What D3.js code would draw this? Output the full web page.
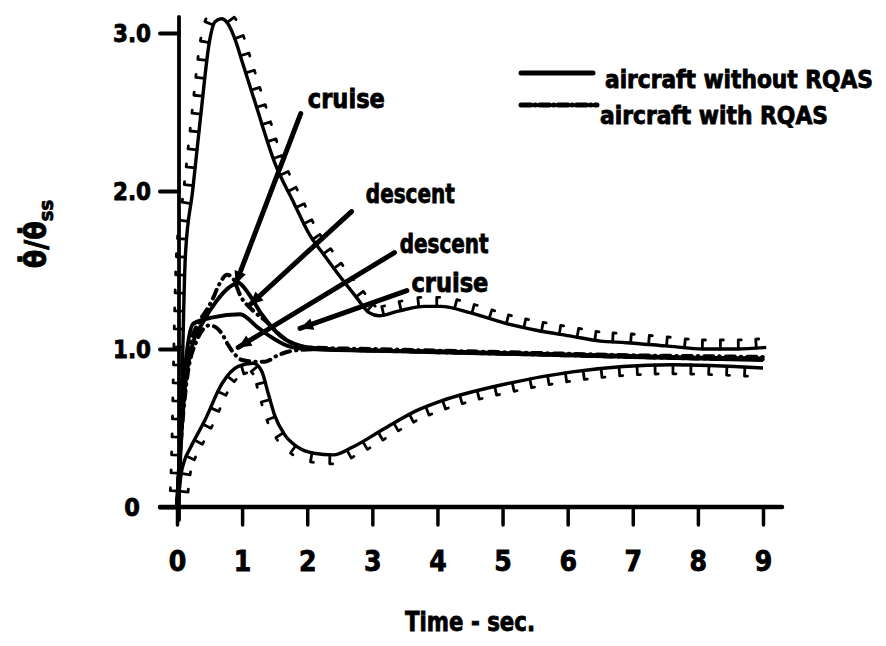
<!DOCTYPE html>
<html><head><meta charset="utf-8">
<script src="https://cdn.jsdelivr.net/npm/d3@7"></script>
<style>body{margin:0;background:#fff}svg{display:block}</style>
</head><body><svg id="c" width="886" height="646"></svg>
<script>
// ---------- data ----------
const xTicks = [0,1,2,3,4,5,6,7,8,9];
const yTicks = [0,1,2,3];
const yTickLabels = ["0","1.0","2.0","3.0"];
const seriesNames = ["aircraft without RQAS","aircraft with RQAS"];

// hatched boundary curves [time, ratio]
const upperBound = [[0.03,0.05],[0.06,0.4],[0.08,0.8],[0.1,1.2],[0.13,1.6],[0.24,2.0],[0.37,2.5],[0.5,2.95],[0.58,3.07],[0.68,3.09],[0.78,3.06],[0.9,2.95],[1.0,2.82],[1.2,2.56],[1.5,2.18],[1.8,1.92],[2.04,1.72],[2.25,1.6],[2.5,1.46],[2.75,1.33],[2.95,1.23],[3.1,1.21],[3.4,1.24],[3.8,1.27],[4.05,1.27],[4.5,1.23],[5.06,1.16],[5.5,1.12],[6.07,1.08],[6.5,1.05],[6.9,1.04],[7.5,1.02],[8.1,1.0],[8.6,1.0],[9.05,1.01]];
const lowerBound = [[0.02,0.05],[0.06,0.2],[0.12,0.3],[0.2,0.37],[0.43,0.55],[0.69,0.78],[0.94,0.89],[1.17,0.91],[1.3,0.86],[1.4,0.72],[1.5,0.58],[1.65,0.46],[1.85,0.38],[2.1,0.34],[2.4,0.33],[2.7,0.38],[3.16,0.49],[3.68,0.61],[4.05,0.67],[5.06,0.78],[6.07,0.855],[7.6,0.9],[9.0,0.88]];

// responses without RQAS (solid)
const withoutCruise = [[0,0],[0.05,0.35],[0.12,0.75],[0.22,1.0],[0.4,1.17],[0.6,1.3],[0.8,1.39],[0.94,1.42],[1.1,1.35],[1.3,1.22],[1.6,1.08],[1.9,1.02],[2.3,1.0],[3,0.99],[4,0.985],[5,0.975],[6,0.965],[7,0.955],[8,0.945],[9,0.94]];
const withoutDescent = [[0,0],[0.05,0.4],[0.12,0.85],[0.25,1.16],[0.55,1.2],[0.97,1.22],[1.23,1.14],[1.43,1.08],[1.7,1.02],[2.0,1.0],[3,0.99],[4,0.98],[5,0.97],[6,0.96],[7,0.95],[8,0.94],[9,0.93]];
// responses with RQAS (dash-dot)
const withCruise = [[0,0],[0.04,0.3],[0.1,0.7],[0.2,1.01],[0.35,1.18],[0.46,1.25],[0.54,1.31],[0.65,1.41],[0.77,1.47],[0.87,1.44],[0.97,1.34],[1.15,1.25],[1.38,1.17],[1.55,1.1],[1.75,1.04],[2.0,1.01],[3,1.0],[4,0.99],[5,0.98],[6,0.97],[7,0.96],[8,0.955],[9,0.95]];
const withDescent = [[0,0],[0.05,0.35],[0.15,0.8],[0.3,1.05],[0.5,1.15],[0.62,1.13],[0.7,1.09],[0.78,1.03],[0.88,0.97],[1.0,0.93],[1.2,0.92],[1.35,0.92],[1.55,0.96],[1.8,0.99],[2.2,1.0],[3,0.99],[4,0.98],[5,0.97],[6,0.96],[7,0.95],[8,0.94],[9,0.935]];

// annotations (data space): label anchor, leader start, leader end
const annLabels = ["cruise","descent","descent","cruise"];
const annLabelAt = [[2.01,2.525],[2.90,1.924],[3.42,1.608],[3.60,1.361]];
const annFrom = [[1.90,2.49],[2.68,1.87],[3.34,1.61],[3.53,1.37]];
const annTo = [[0.90,1.41],[1.12,1.28],[0.94,1.01],[1.89,1.13]];

// ---------- drawing ----------
const svg = d3.select("#c");
const FONT = "'Liberation Sans Narrow','DejaVu Sans Condensed','Arial Narrow',sans-serif";
const x = d3.scaleLinear().domain([0,9]).range([177,763]);
const y = d3.scaleLinear().domain([0,3]).range([507,33]);
const line = d3.line().x(d=>x(d[0])).y(d=>y(d[1])).curve(d3.curveMonotoneX);

function txt(sel){ return sel.attr("font-family",FONT).attr("font-weight","bold").attr("fill","#000").attr("stroke","#000").attr("stroke-width",0.8); }

// axes lines
svg.append("line").attr("x1",160).attr("x2",782).attr("y1",y(0)).attr("y2",y(0))
  .attr("stroke","#000").attr("stroke-width",4.5).attr("stroke-linecap","round");
svg.append("line").attr("x1",x(0)+2).attr("x2",x(0)+2).attr("y1",17).attr("y2",520)
  .attr("stroke","#000").attr("stroke-width",3.8).attr("stroke-linecap","round");

// x axis ticks
const xa = svg.append("g").attr("transform",`translate(0,${y(0)})`)
  .call(d3.axisBottom(x).tickValues(xTicks).tickSize(18).tickPadding(26).tickFormat(d3.format("d")));
xa.select(".domain").remove();
xa.selectAll(".tick line").attr("stroke","#000").attr("stroke-width",3.5).attr("stroke-linecap","round");
xa.selectAll(".tick text").call(txt).attr("font-size",28);

// y axis ticks
const ya = svg.append("g").attr("transform",`translate(${x(0)+2},0)`)
  .call(d3.axisLeft(y).tickValues(yTicks).tickSize(19).tickFormat((d,i)=>yTickLabels[i]));
ya.select(".domain").remove();
ya.selectAll(".tick line").attr("stroke","#000").attr("stroke-width",4).attr("stroke-linecap","round");
ya.selectAll(".tick text").call(txt).attr("font-size",25).attr("x",-47).attr("text-anchor","middle")
  .each(function(d){ if(d>0) d3.select(this).attr("textLength",38).attr("lengthAdjust","spacingAndGlyphs"); });

// boundary curves with hatching
function hatch(node, side){
  const L = node.getTotalLength();
  const g = svg.append("g").attr("stroke","#000").attr("stroke-width",2.8).attr("fill","none")
    .attr("stroke-linecap","round").attr("stroke-linejoin","round");
  for(let s=8; s<L-3; s+=18){
    const p = node.getPointAtLength(s), q = node.getPointAtLength(Math.min(L,s+2));
    let dx=q.x-p.x, dy=q.y-p.y; const m=Math.hypot(dx,dy)||1; dx/=m; dy/=m;
    const nx=-dy*side, ny=dx*side;
    g.append("path").attr("d",`M${p.x},${p.y}L${p.x+nx*9},${p.y+ny*9}l${dx*3},${dy*3}`);
  }
}
const ub = svg.append("path").datum(upperBound).attr("d",line).attr("fill","none").attr("stroke","#000").attr("stroke-width",3.4);
hatch(ub.node(), -1);
const lb = svg.append("path").datum(lowerBound).attr("d",line).attr("fill","none").attr("stroke","#000").attr("stroke-width",3.4);
hatch(lb.node(), 1);

// responses
[withoutCruise, withoutDescent].forEach(s=>{
  svg.append("path").datum(s).attr("d",line).attr("fill","none").attr("stroke","#000").attr("stroke-width",4);
});
[withCruise, withDescent].forEach(s=>{
  svg.append("path").datum(s).attr("d",line).attr("fill","none").attr("stroke","#000").attr("stroke-width",4)
    .attr("stroke-dasharray","9,6,0.5,6").attr("stroke-linecap","round");
});

// annotation leaders
annLabels.forEach((lab,i)=>{
  const x1=x(annFrom[i][0]), y1=y(annFrom[i][1]), x2=x(annTo[i][0]), y2=y(annTo[i][1]);
  svg.append("line").attr("x1",x1).attr("y1",y1).attr("x2",x2).attr("y2",y2)
    .attr("stroke","#000").attr("stroke-width",5).attr("stroke-linecap","round");
  let dx=x2-x1, dy=y2-y1; const m=Math.hypot(dx,dy); dx/=m; dy/=m;
  const bx=x2-dx*13, by=y2-dy*13;
  svg.append("path").attr("d",`M${x2},${y2}L${bx-dy*6},${by+dx*6}L${bx+dy*6},${by-dx*6}Z`).attr("fill","#000");
  const w = lab==="cruise"?77:89;
  svg.append("text").attr("x",x(annLabelAt[i][0])).attr("y",y(annLabelAt[i][1])).text(lab)
    .call(txt).attr("font-size",26).attr("textLength",w).attr("lengthAdjust","spacingAndGlyphs");
});

// legend
svg.append("line").attr("x1",521).attr("x2",593).attr("y1",73).attr("y2",73)
  .attr("stroke","#000").attr("stroke-width",5).attr("stroke-linecap","round");
svg.append("text").attr("x",605).attr("y",88).text(seriesNames[0]).call(txt).attr("font-size",24)
  .attr("textLength",268).attr("lengthAdjust","spacingAndGlyphs");
svg.append("line").attr("x1",521).attr("x2",597).attr("y1",105).attr("y2",105)
  .attr("stroke","#000").attr("stroke-width",5).attr("stroke-linecap","round").attr("stroke-dasharray","10,4,0.5,4");
svg.append("text").attr("x",600).attr("y",124).text(seriesNames[1]).call(txt).attr("font-size",24)
  .attr("textLength",228).attr("lengthAdjust","spacingAndGlyphs");

// axis titles
svg.append("text").attr("x",470).attr("y",631).attr("text-anchor","middle").text("Time - sec.")
  .call(txt).attr("font-size",27).attr("textLength",130).attr("lengthAdjust","spacingAndGlyphs");
const yl = svg.append("text").attr("transform","translate(46,234) rotate(-90)").attr("text-anchor","middle")
  .call(txt).attr("font-size",30);
yl.append("tspan").text("\u03B8\u0307/\u03B8\u0307");
yl.append("tspan").attr("font-size",20).attr("dy",7).text("ss");
</script></body></html>
